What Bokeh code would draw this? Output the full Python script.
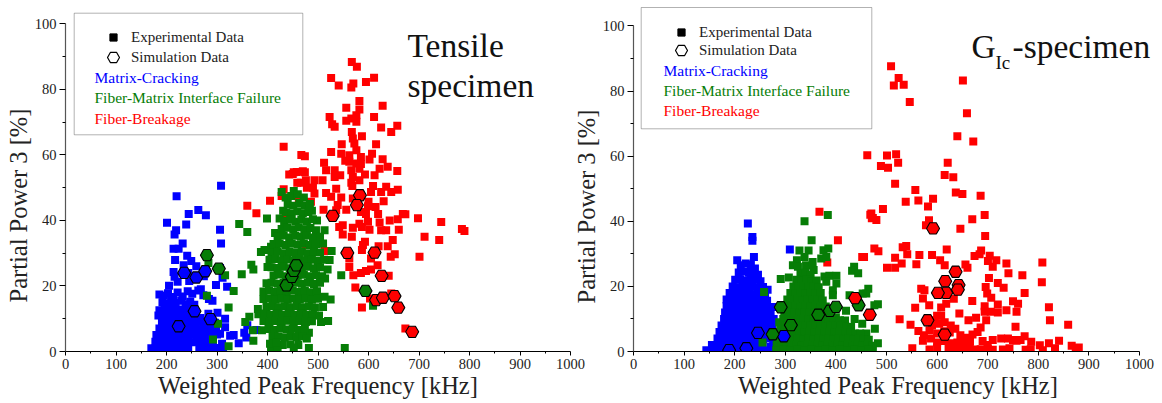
from bokeh.plotting import figure
from bokeh.layouts import row
from bokeh.models import Range1d, Label, BoxAnnotation, Legend, LegendItem, FixedTicker, Title
from bokeh.embed import file_html
from bokeh.resources import INLINE

BLUE, GREEN, RED = "#0000ff", "#067d06", "#ff0000"
SERIF = "Liberation Serif"

x_ticks = [0, 100, 200, 300, 400, 500, 600, 700, 800, 900, 1000]
y_ticks = [0, 20, 40, 60, 80, 100]

tensile_blue = [
 (308,50.6),(220,47.4),(201,39.3),(219,37),(216,35.7),(244,42),(263,43.2),(278,41.6),(239,38.8),(306,37.2),(308,33),(232,33),(214,31.4),(224,31.4),(241,29.2),(249,27.6),(217,27.9),(234,26.3),(259,26),(214,24.3),(216,22.8),(306,25.5),(311,22.5),(320,19.8),(298,20.3),(205,20.1),(222,21.3),(245,21.5),(268,19),(274,23),(243,24),
 (186,17.4),(194,17),(203,17.8),(213,16.6),(222,18),(232,16.8),(242,18.4),(251,17.6),(263,18.6),(273,17.2),(192,15),(201,14.6),(209,15.4),(218,14.8),(229,15.5),(238,14.4),(247,15.2),(255,14.3),(284,16),(291,15.5),
 (186,12.6),(196,13),(205,12.4),(213,13.2),(221,12.6),(229,12.8),(241,12.5),(251,13),(184,11),(193,10.8),(200,11.3),(209,10.6),(217,11),(225,10.7),(233,11.1),(241,10.5),(249,11),(257,10.7),(267,10.2),(283,11.5),(301,11.8),(316,10),
 (191,9),(198,9.2),(206,8.8),(214,9.3),(223,8.7),(231,9.2),(238,8.8),(246,9.1),(254,8.7),(263,9.2),(273,8.6),(282,9),(296,8.8),(186,7),(193,7.3),(201,6.8),(209,7.2),(217,6.9),(226,7.3),(233,6.8),(241,7.2),(250,6.9),(258,7.2),(266,6.8),(273,7.1),(284,6.9),(291,7.2),(298,6.8),(316,7.4),
 (180,5),(188,5.3),(196,4.9),(204,5.2),(212,4.8),(220,5.1),(228,4.9),(236,5.3),(244,4.8),(252,5.1),(260,4.9),(268,5.2),(276,4.8),(284,5.1),(292,4.8),(300,5.2),(306,5.4),(326,4.8),(333,5),(354,5.7),(358,4.3),(343,2.5),(412,4.6),(360,8),(378,6.6),
 (178,3),(186,3.2),(194,2.9),(202,3.1),(210,2.8),(218,3.2),(226,3),(234,2.9),(242,3.2),(250,2.8),(262,3),(270,3.1),(278,3.2),(292,2.8),(310,2.4),
 (170,1),(178,.9),(186,1.1),(194,.8),(202,1),(210,1.2),(218,.9),(226,1),(235,.8),(243,1.1),(265,1),(272,.8),(280,1),(290,.9),(298,1.1),(312,1.2),
]
tensile_green = [
 (344,38.9),(360,36.5),(368,26.5),(372,25),(349,23.6),(333,18.5),(323,13.4),(316,23.3),(302,8.5),(292,3.7),(323,1.6),(356,9),(371,6.5),(372,3.3),(389,6.5),(381,13),(364,10.6),(399,40.6),(424,40.6),(415,36.2),(431,43),(428,48.7),(452,49),(400,25.8),(394,31),(407,32),(417,32.5),(387,30.4),(283,27),(280,17),(498,40),(488,43),(513,37),(510,33),(500,33),(527,30.7),(523,27.9),(519,25),(514,22.3),(525,15.9),(513,16.7),(520,9.3),(506,9),(510,13.6),(482,5.7),(461,2),(482,1.1),(553,1.1),(546,23.3),(609,14),(430,2),(407,1),(420,.8),
 (436,47),(447,47.5),(460,48),(472,47),(440,45),(451,44.5),(463,45.3),(474,44.6),(484,45),(437,42.5),(448,42),(459,42.8),(470,42.2),(481,42.6),(433,39.8),(445,40.2),(456,39.6),(467,40.3),(478,39.7),(490,40.4),
 (428,37.4),(440,37.8),(451,37.2),(462,37.9),(473,37.3),(485,37.7),(496,37),(420,35),(432,35.4),(443,34.8),(455,35.3),(466,35),(478,35.4),(490,34.8),(504,35),
 (412,32.8),(424,33),(436,32.5),(448,32.9),(460,32.6),(472,33),(484,32.5),(496,32.8),(408,30.3),(420,30.5),(432,30),(444,30.4),(456,30.1),(468,30.5),(480,30),(492,30.4),(504,30.2),
 (404,28),(416,28.2),(428,27.8),(440,28.1),(452,27.7),(464,28.2),(476,27.8),(488,28),(500,27.6),(512,28),(408,25.7),(420,25.5),(432,25.9),(444,25.4),(456,25.8),(468,25.5),(480,25.9),(492,25.4),(504,25.7),
 (412,23.2),(424,23.5),(436,23),(448,23.4),(460,23.1),(472,23.4),(484,23),(496,23.3),(508,23),(398,20.8),(408,21),(420,20.7),(432,21),(444,20.6),(456,21),(468,20.7),(480,21),(492,20.6),(504,21),
 (392,18.3),(403,18.6),(414,18.2),(426,18.5),(438,18.2),(450,18.6),(462,18.2),(474,18.5),(486,18.1),(498,18.4),(392,16),(404,16.2),(416,15.8),(428,16.1),(440,15.8),(452,16.2),(464,15.9),(476,16.2),(488,15.8),(500,16.1),
 (398,13.6),(410,13.9),(422,13.5),(434,13.8),(446,13.5),(458,13.9),(470,13.5),(482,13.8),(494,13.4),(382,11.4),(394,11.6),(406,11.2),(418,11.5),(430,11.2),(442,11.6),(454,11.2),(466,11.5),(478,11.2),(490,11.4),(502,11),
 (392,9.3),(404,9),(416,9.3),(428,9),(440,9.4),(452,9),(464,9.3),(476,9),(488,9.2),(402,6.9),(414,6.6),(426,7),(438,6.7),(450,7),(462,6.6),(474,6.9),(410,4.4),(422,4.6),(434,4.3),(446,4.7),(458,4.4),(470,4.6),(478,4),(405,2.4),(418,2.7),(445,2.2),(452,1.2),
]
tensile_red = [
 (567,88.4),(577,86.9),(526,83.5),(541,81.2),(566,80.6),(570,81.8),(595,82.3),(611,83.6),(582,76.5),(556,74.4),(582,73.9),(628,75),(523,71.6),(576,72.1),(566,71.1),(611,71.6),(556,70.4),(576,70.1),(528,69.4),(533,68.6),(625,68.4),(657,68.9),(645,67),(567,67),(587,65.7),(569,65),(572,63.5),(547,63.3),(615,63.3),(576,61.4),(526,60.9),(546,60.4),(474,59.6),(562,59.9),(607,60.4),(585,59.4),(602,58.6),(628,58.7),(554,58.2),(562,57.9),(576,57.4),(512,57.6),(585,57.2),(638,56.4),(622,55.8),(657,55.1),(582,55.8),(566,55.3),(516,55.3),(533,55.3),(474,54.7),(452,54.7),(544,53.8),(533,53.3),(593,54),(612,53.8),(569,53.3),(582,52.3),(566,51.5),(493,52.3),(509,52.3),(459,51.5),(476,52.3),(609,50.5),(568,50.5),(536,49.7),(635,50.3),(658,49.4),(490,50),(493,48.2),(516,48.4),(605,48.7),(625,48.7),(645,48.7),(526,47.2),(546,47),(569,46.7),(486,45.7),(600,45.7),(630,45.9),(539,44.7),(614,44.1),(599,44.3),(556,43.3),(511,43.3),(536,43.1),(585,42.6),(595,42),(619,42),(668,42),(673,41.9),(698,40.7),(744,39.5),(642,40),(658,40.4),(599,39.6),(582,39),(622,39.4),(549,38.5),(542,38),(569,37.8),(587,38),(602,37.2),(625,37),(635,37),(660,37.2),(785,37.4),(790,36.8),(549,35.7),(567,35),(711,35),(740,34),(648,34),(593,33.5),(589,32.5),(620,32.1),(638,32.1),(476,32.5),(513,30.7),(587,31),(652,29.7),(644,28.9),(701,28.9),(562,28.4),(605,28.4),(618,26.3),(562,25.8),(605,25),(595,24.6),(585,24),(570,23.3),(640,23.1),(574,19.5),(645,17.7),(603,16.2),(587,13.4),(673,7),
 (432,62.5),(443,54),(450,54.2),(458,54.8),(466,51.5),(360,44.5),(378,42.2),(405,46),(428,47.5),(432,49.5),(436,40.8),(467,60),(470,55),(478,50),(462,46),
]
tensile_sim_blue = [(224,7.7),(255.5,12.3),(287,9.9),(235,24),(259,22.6),(276.6,24.5)]
tensile_sim_green = [(280,29.4),(303.6,25.3),(437.6,20.2),(448,22.8),(452,24.6),(457,26.3),(594,18.5)]
tensile_sim_red = [(583,47.7),(577,44.7),(529,41.4),(558,30.1),(612,30.2),(626,23.1),(615,15.7),(628.4,16.4),(651.5,16.9),(659,13.4),(686.5,6)]

gic_blue = [
 (226,39.3),(235,35.2),(235,34),(238,29),(205,28),(309,31.3),(265,19),(275,13.7),(271,1.4),
 (212,26.5),(222,27),(232,26.6),(240,25.5),(208,24.3),(218,24.6),(228,24.2),(238,24),(246,23.6),(201,22),(211,22.2),(221,21.8),(231,22),(241,22.2),(251,21.6),(196,20),(206,19.7),(216,20.1),(226,19.7),(236,20),(246,19.6),(256,19.8),
 (190,18),(200,17.7),(210,18),(220,17.7),(230,18),(240,17.6),(250,18),(260,17.7),(184,16),(194,15.8),(204,16.1),(214,15.7),(224,16),(234,15.7),(244,16),(254,15.8),(264,15.6),(184,14),(194,13.8),(204,14.1),(214,13.8),(224,14),(234,13.7),(244,14),(254,13.8),(264,13.7),
 (181,12),(191,11.8),(201,12.1),(211,11.8),(221,12),(231,11.7),(241,12),(251,11.8),(261,12),(271,11.6),(179,10),(189,9.8),(199,10.1),(209,9.8),(219,10),(229,9.8),(239,10.1),(249,9.8),(259,10),(269,9.7),(277,10),
 (174,8),(184,7.8),(194,8.1),(204,7.8),(214,8),(224,7.7),(234,8),(244,7.8),(254,8),(264,7.8),(274,8),(170,6),(180,5.8),(190,6.1),(200,5.8),(210,6),(220,5.8),(230,6),(240,5.8),(250,6),(260,5.7),(270,6),(279,5.8),
 (166,4),(176,3.8),(186,4.1),(196,3.8),(206,4),(216,3.8),(226,4),(236,3.8),(246,4),(256,3.8),(266,4),(276,3.8),(155,2),(165,1.8),(175,2.1),(185,1.8),(195,2),(205,1.8),(215,2),(225,1.8),(235,2),(245,1.8),(255,2),(278,1.8),
 (144,.4),(158,.4),(170,.5),(182,.4),(196,.4),(210,.5),(224,.4),(238,.4),(252,.5),(266,.4),(279,.4),
]
gic_green = [
 (338,40),(352,34.2),(384,41.9),(375.5,31.1),(385,31.6),(328,31),(346,31),(338,29),(371,28.6),(381,29),(323,28),(315,26.5),(325,26),(341,26.5),(354,27.5),(356,25),(291,22.3),(307,22.7),(377.5,23),(387,23.3),(401,23.3),(381,21.4),(401,20.9),(394,18.8),(394,17.3),(436,26),(432,24.8),(444,24),(464,19.3),(427,17.3),(460,17.8),(258,18.3),(255,2.8),(288,9),(293,5.5),(453,17.8),(483,14.5),(476,14.2),(477,7),(483,2.5),(473,.6),(420,12.5),(437,10),(452,8.5),(460,5.5),
 (330,24),(340,24.3),(350,23.5),(322,22),(332,21.7),(342,22),(352,21.6),(362,21.8),(316,20),(326,19.8),(336,20.1),(346,19.8),(356,20),(366,19.7),(310,18),(320,17.8),(330,18),(340,17.7),(350,18),(360,17.8),(370,18),
 (304,16),(314,15.8),(324,16.1),(334,15.7),(344,16),(354,15.8),(364,16),(374,15.7),(300,14),(310,13.8),(320,14),(330,13.7),(340,14),(350,13.8),(360,14),(370,13.7),(380,13.8),
 (298,12),(308,11.8),(318,12),(328,11.7),(338,12),(348,11.8),(358,12),(368,11.8),(378,12),(388,11.8),(400,10.5),(296,10),(306,9.8),(316,10),(326,9.7),(336,10),(346,9.8),(356,10),(366,9.8),(376,10),(386,9.8),(396,10),(408,9.6),(418,9.5),
 (290,8),(300,7.8),(310,8),(320,7.7),(330,8),(340,7.8),(350,8),(360,7.8),(370,8),(380,7.7),(390,8),(400,7.8),(410,8),(420,7.6),(430,7.5),(288,6),(298,5.8),(308,6),(318,5.7),(328,6),(338,5.8),(348,6),(358,5.8),(368,6),(378,5.7),(388,6),(398,5.8),(408,6),(418,5.7),(428,5.8),(438,5.5),(448,5.5),
 (285,4),(295,3.8),(305,4),(315,3.7),(325,4),(335,3.8),(345,4),(355,3.8),(365,4),(375,3.7),(385,4),(395,3.8),(405,4),(415,3.7),(425,4),(435,3.8),(445,4),(455,3.7),(465,3.6),(283,2),(293,1.8),(303,2),(313,1.7),(323,2),(333,1.8),(343,2),(353,1.7),(363,2),(373,1.8),(383,2),(393,1.7),(403,2),(413,1.8),(423,2),(433,1.7),(443,2),(453,1.8),(463,2),(472,1.8),
 (282,.4),(296,.5),(310,.4),(324,.5),(338,.4),(352,.5),(366,.4),(380,.5),(394,.4),(408,.5),(422,.4),(436,.5),(450,.4),(464,.5),
]
gic_red = [
 (509,87.6),(524,84),(514.5,81.7),(534,81.9),(546,76.6),(651,83.2),(659,73.2),(640,66.1),(671.5,64.5),(462,60.3),(501,60.2),(519,60.6),(523,58),(489,57),(503,56.4),(621,58),(615,54.2),(632,53.5),(517,51.5),(557,49.6),(637,48.8),(650,48.4),(686,47.8),(538,46),(563,46.4),(592,46.9),(582,44.5),(493,43.8),(468,42),(471,40.9),(480,40.4),(584,40.3),(578,38.8),(694,41.9),(669.5,40.6),(646,37.7),(695,35.5),(476,31.6),(484,30.8),(452,29),(532,32),(539,32.4),(541,29.9),(517,28.8),(530,27),(501,25.7),(517,25.7),(565,29.6),(559,26.8),(590,29.6),(619,31.3),(606,28),(615,26.5),(687,31),(674,29.3),(684,29.9),(704,29.4),(700.5,27.8),(717,28),(710,26),(737,27),(656,26.7),(660,25.7),(808,27.3),(768.5,23.4),(741,24),(702.5,22.6),(807,21.3),(720,21),(731.5,19.6),(696,19.8),(699,17.8),(707,16.5),(773,18),(750,15.4),(760,14.7),(669.5,15.5),(633,16.2),(568.6,19.3),(575,18.8),(572,16.3),(584.4,14.2),(556.7,13.4),(821,13.6),(823,9.6),(859,8.2),(694,13.9),(694,12.2),(706,12.2),(720,14.4),(720,12),(737,12.7),(757,12.2),(644,11.7),(662,9.6),(677,10.4),(697,9.6),(526,9.9),(547.5,8.2),(755,7.6),(686,7.4),
 (367.5,42.9),(404,34.2),(455.6,29),(383,27.3),(470,42.4),(473,41),
 (563,6.3),(572,3.3),(585,6.5),(595,9.6),(608,11),(618,14.7),(608,13.5),(600,11),(590,8),(604,8.5),(615,9),(627,8),(614,6.2),(600,5.5),(588,4),(574,5),(625,5.8),(636,7),(646,5),(658,4.2),(670,5.2),(680,6),(600,2.8),(615,3.2),(628,2.5),(640,2.8),(652,2.8),(665,3),(690,3.2),
 (551,1),(585,.6),(600,1.2),(622.7,.9),(632,1),(642,.7),(652,.6),(664,.8),(675,.6),(686,.7),(700,.8),(710,.5),(730,.6),(743,1),(775,.5),(785,.7),(809,.4),(833,1),(874,.5),
 (710,3.5),(726.6,4),(740,4),(757,3.3),(773,4.7),(786,3),(803,1.9),(821,2.5),(841,3.3),(866,1.8),(880,1.2),(700,2),(765,3.5),(750,3.5),
]
gic_sim_blue = [(189,.4),(223,1),(246,5.7),(297,4.7)]
gic_sim_green = [(275,5.3),(291,13.6),(311,8.1),(365,11.3),(388,12.5),(400,13.7),(445,14.2)]
gic_sim_red = [(438,16.4),(467,11.3),(592,37.8),(636.5,24.5),(616,21.6),(642.5,20.4),(641,19),(618,18),(601.6,18),(581,9.6),(615,5.2)]


def split(pairs):
    return [a for a, _ in pairs], [b for _, b in pairs]


def canvas_label(p, px, py, text, color, size, **kw):
    p.add_layout(Label(x=px, y=py, x_units="canvas", y_units="canvas", text=text, text_color=color,
                       text_font=SERIF, text_font_size=size, level="overlay", **kw))


def panel(width, left, right, xend, ytop, origin, exp, sim, xpx, ypx, box, legend_xy, cat_lines, title_parts, ytitle_offset, **fig_kw):
    p = figure(width=width, height=403, output_backend="svg", toolbar_location=None,
               x_range=Range1d(0, xend), y_range=Range1d(0, ytop),
               min_border_left=left, min_border_right=right, min_border_top=0, min_border_bottom=52, **fig_kw)
    p.title = None
    p.outline_line_color = None
    p.grid.visible = False
    p.background_fill_color = None
    p.border_fill_color = None
    xa, ya = p.xaxis[0], p.yaxis[0]
    xa.ticker = FixedTicker(ticks=x_ticks, minor_ticks=[50 + 100 * i for i in range(10)])
    ya.ticker = FixedTicker(ticks=y_ticks, minor_ticks=[10 + 20 * i for i in range(5)])
    xa.major_tick_out, xa.minor_tick_out = 4, 2
    ya.major_tick_out, ya.minor_tick_out = 6, 3
    xa.axis_line_color, ya.axis_line_color = "#000000", "#555555"
    for ax in (xa, ya):
        ax.major_tick_in = 0
        ax.minor_tick_in = 0
        ax.axis_line_width = 1.2
        ax.major_tick_line_width = 1
        ax.minor_tick_line_width = 1
        ax.major_label_text_font = SERIF
        ax.major_label_text_font_size = "14.5px"
        ax.major_label_text_color = "#222222"
        ax.major_label_standoff = 3
    xa.bounds = (0, 1000)
    ya.bounds = (0, 100)
    xa.axis_label = "Weighted Peak Frequency [kHz]"
    xa.axis_label_text_font = SERIF
    xa.axis_label_text_font_style = "normal"
    xa.axis_label_text_font_size = "24.5px"
    xa.axis_label_text_color = "#222222"
    xa.axis_label_standoff = 0
    p.add_layout(Title(text="Partial Power 3 [%]", align="left", offset=ytitle_offset, standoff=0, text_font=SERIF,
                       text_font_style="normal", text_font_size="24.5px", text_color="#222222"), "left")

    for pts, col in zip(exp, (RED, BLUE, GREEN)):
        x, y = split(pts)
        p.scatter(x, y, marker="square", size=8, fill_color=col, line_color=None)
    for pts, col in zip(sim, (BLUE, GREEN, RED)):
        x, y = split(pts)
        p.scatter(x, y, marker="hex", size=13, fill_color=col, line_color="#000000", line_width=1.1)

    p.add_layout(BoxAnnotation(left=xpx(box[0]), right=xpx(box[1]), top=ypx(box[2]), bottom=ypx(box[3]),
                               fill_color=None, line_color="#000000", line_width=1))
    nan = float("nan")
    r_exp = p.scatter([nan], [nan], marker="square", fill_color="#000000", line_color="#000000")
    r_sim = p.scatter([nan], [nan], marker="hex", fill_color="#ffffff", line_color="#000000", line_width=1.2)
    for label, rend, glyph, stand, loc in (("Experimental Data", r_exp, 18, 9, legend_xy[0]),
                                           ("Simulation Data", r_sim, 30, 3, legend_xy[1])):
        p.add_layout(Legend(items=[LegendItem(label=label, renderers=[rend])], location=loc,
                            background_fill_alpha=0, border_line_color=None, glyph_width=glyph, glyph_height=glyph,
                            label_height=14, label_text_font=SERIF, label_text_font_size="15px",
                            label_text_color="#222222", spacing=0, padding=0, margin=0, label_standoff=stand), "center")
    for text, col, lx_, ly_ in cat_lines:
        canvas_label(p, lx_ - origin, ly_ - 6, text, col, "15.5px", text_baseline="alphabetic")
    for text, size, lx_, ly_ in title_parts:
        canvas_label(p, lx_ - origin, ly_ - 0.39 * float(size[:-2]), text, "#111111", size, text_baseline="alphabetic")
    return p


lx = lambda v: (v - 65) / 0.505
ly = lambda v: (351 - v) / 3.276
rx = lambda v: (v - 633) / 0.506
ry = lambda v: (351 - v) / 3.256

p1 = panel(600, 65, 30, 1000, 351 / 3.276, 0, (tensile_red, tensile_blue, tensile_green),
           (tensile_sim_blue, tensile_sim_green, tensile_sim_red), lx, ly,
           (73.7, 302.3, 12.7, 134.3), ((39, 305), (33, 279)),
           [("Matrix-Cracking", BLUE, 94, 83), ("Fiber-Matrix Interface Failure", GREEN, 94, 103),
            ("Fiber-Breakage", RED, 94, 124)],
           [("Tensile", "33.5px", 407, 58), ("specimen", "33.5px", 407, 98)], 49)
p2 = panel(592, 63, 0, (1162 - 633) / 0.506, 351 / 3.256, 570, (gic_red, gic_blue, gic_green),
           (gic_sim_blue, gic_sim_green, gic_sim_red), rx, ry,
           (640.7, 871.3, 7, 128.3), ((39, 310), (33, 286)),
           [("Matrix-Cracking", BLUE, 663, 76), ("Fiber-Matrix Interface Failure", GREEN, 663, 96),
            ("Fiber-Breakage", RED, 663, 116)],
           [("G", "33.5px", 971, 59), ("Ic", "19px", 995, 69), ("-specimen", "33.5px", 1012, 59)], 48,
           margin=(0, 0, 0, -30))

layout = row(p1, p2, spacing=0)
open("out.html", "w").write(file_html(layout, INLINE))
